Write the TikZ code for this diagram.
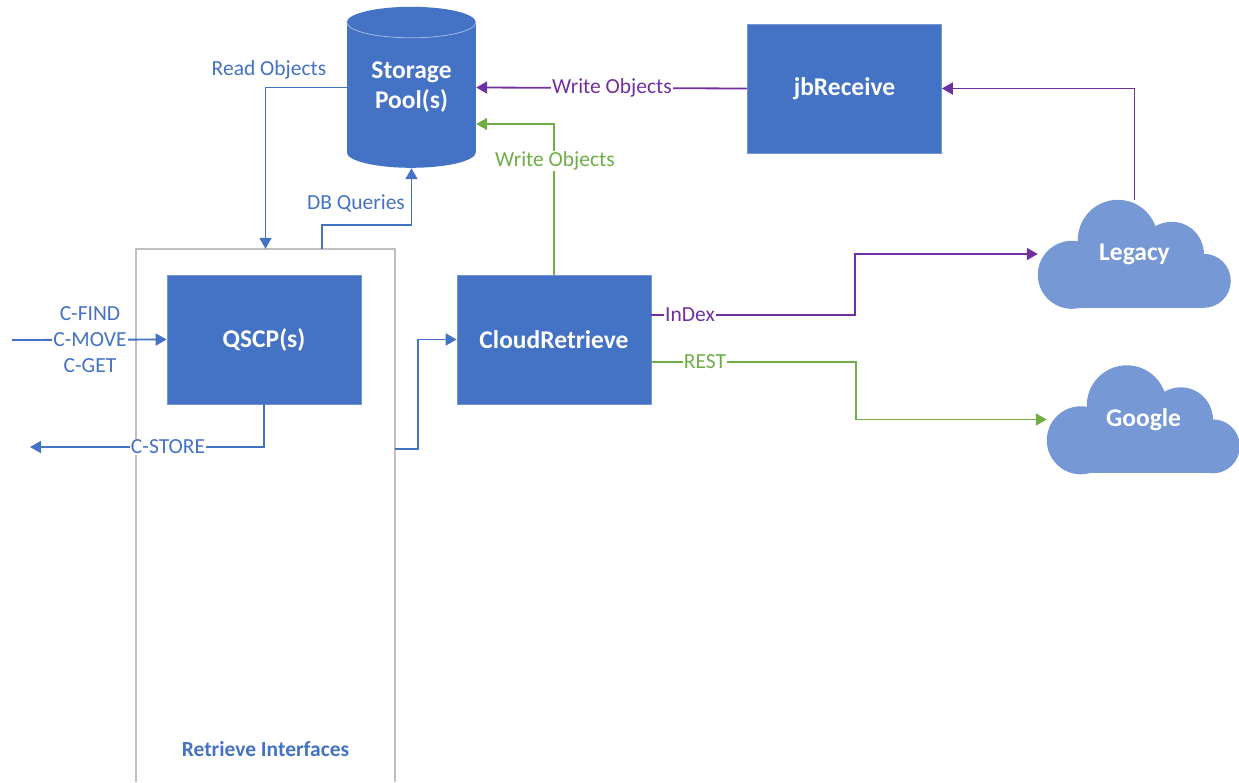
\documentclass[tikz,border=0pt]{standalone}
\usepackage{fontspec}
\setmainfont{Carlito}
\usetikzlibrary{arrows.meta,backgrounds,calc}
\definecolor{boxblue}{HTML}{4472C4}
\definecolor{cloudblue}{HTML}{7698D4}
\definecolor{purp}{HTML}{7030A0}
\definecolor{grn}{HTML}{70AD47}
\definecolor{framegray}{HTML}{BFBFBF}
\definecolor{seam}{HTML}{A3BAE3}
\tikzset{
  block/.style={fill=boxblue, draw=boxblue!75!white, line width=0.7pt, text=white,
    font=\fontsize{25.5}{30}\selectfont\bfseries, minimum width=194pt, minimum height=129pt,
    inner sep=0pt, align=center},
  cylbox/.style={text=white, font=\fontsize{25.5}{30}\selectfont\bfseries,
    minimum width=129pt, minimum height=161pt, inner sep=0pt, align=center},
  cloudbox/.style={text=white, font=\fontsize{25.5}{30}\selectfont\bfseries,
    minimum width=193pt, minimum height=108pt, inner sep=0pt},
  conn/.style={line width=1.8pt, -{Triangle[width=12pt,length=11pt]}},
  lbl/.style={font=\fontsize{21.5}{26}\selectfont, inner sep=1pt},
  wlbl/.style={lbl, fill=white},
}
\newcommand\cloudfill[1]{%
  \begin{scope}[shift={(#1.north west)}]
    \fill[cloudblue] (34,75) circle (34pt) (80,40) circle (40pt)
      (134,54) circle (32pt) (166,81) circle (27pt);
    \fill[cloudblue] (34,50) rectangle (166,108);
  \end{scope}}
\newcommand\cylfill[1]{%
  \begin{scope}[shift={(#1.north west)}]
    \fill[boxblue] (0,15.5) rectangle (129,145.5);
    \fill[boxblue] (64.5,15.5) ellipse (64.5pt and 15.5pt);
    \fill[boxblue] (64.5,145.5) ellipse (64.5pt and 15.5pt);
    \draw[seam, line width=0.8pt] (0,15.5) arc[start angle=180, end angle=360, x radius=64.5pt, y radius=15.5pt];
  \end{scope}}
\begin{document}
\begin{tikzpicture}[x=1pt, y=-1pt]
\useasboundingbox (0,0) rectangle (1239,782);

% frame of retrieve interfaces
\node[minimum width=259pt, minimum height=533pt, inner sep=0pt] (ri) at (265.5,515.5) {};
\draw[framegray, line width=2.5pt] (ri.south west) -- (ri.north west) -- (ri.north east) -- (ri.south east);
\node[font=\fontsize{21.5}{24}\selectfont\bfseries, text=boxblue] (rilabel) at ([yshift=33pt]ri.south) {Retrieve Interfaces};

% main nodes
\node[cylbox] (pool) at (411.5,87.5) {Storage\\Pool(s)};
\node[block] (jb) at (844.5,88.5) {jbReceive};
\node[block] (qscp) at (264,339.5) {QSCP(s)};
\node[block] (cr) at (554,339.5) {CloudRetrieve};
\node[cloudbox] (legacy) at (1134.5,254) {Legacy};
\node[cloudbox] (google) at (1143.5,419.5) {Google};

\begin{pgfonlayer}{background}
  \cylfill{pool}
  \cloudfill{legacy}
  \cloudfill{google}
\end{pgfonlayer}

\coordinate (cin) at (12,340);
\coordinate (cs) at (30,447);

% blue connectors
\draw[conn, boxblue] (pool.west) -| (ri.north);
\draw[conn, boxblue] ([xshift=56.5pt]ri.north) -- ++(0,-24) -| (pool.south);
\draw[conn, boxblue] (cin) -- (qscp.west);
\draw[conn, boxblue] (qscp.south) |- (cs);
\draw[conn, boxblue] ([yshift=-200pt]ri.north east) -- ++(23,0) |- (cr.west);

% purple connectors
\draw[conn, purp] (jb.west) -- (pool.east);
\draw[conn, purp] (legacy.north) |- (jb.east);
\draw[conn, purp] ([yshift=24.5pt]cr.east) -- ++(204,0) |- (legacy.west);

% green connectors
\draw[conn, grn] (cr.north) |- ([yshift=-36.5pt]pool.east);
\draw[conn, grn] ([yshift=-22.5pt]cr.east) -- ++(205,0) |- (google.west);

% labels
\node[lbl, text=boxblue] (lread) at (269,70) {Read Objects};
\node[lbl, text=boxblue] (ldb) at (356,204) {DB Queries};
\node[wlbl, text=boxblue, align=center] (lcmd) at (90,340) {C-FIND\\C-MOVE\\C-GET};
\node[wlbl, text=boxblue] (lstore) at (168,447) {C-STORE};
\node[wlbl, text=purp] (lwp) at (612,88) {Write Objects};
\node[wlbl, text=grn] (lwg) at (555,161) {Write Objects};
\node[wlbl, text=purp] (lidx) at (690,315) {InDex};
\node[wlbl, text=grn] (lrest) at (705,362) {REST};
\end{tikzpicture}
\end{document}
